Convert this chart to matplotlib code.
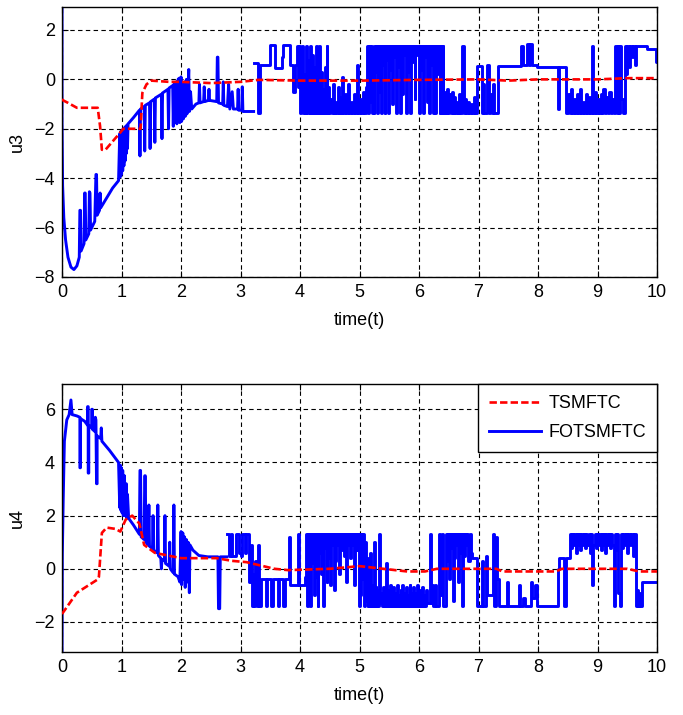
import matplotlib.pyplot as plt

plt.rcParams['font.family'] = ['Liberation Sans', 'DejaVu Sans']
plt.rcParams['font.size'] = 13

# ---- u3 ----
u3_tsm_t = [0, 0.02, 0.1, 0.25, 0.6, 0.64, 0.67, 0.73, 0.98, 1.03, 1.32, 1.35, 1.42, 1.5,
            1.8, 2.0, 2.5, 3.0, 3.3, 4.0, 5.0, 6.0, 7.0, 7.5, 8.0, 9.0, 9.5, 10]
u3_tsm_v = [-0.8, -0.85, -0.95, -1.15, -1.15, -1.9, -2.85, -2.85, -2.15, -2.0, -2.0, -0.55, -0.2, -0.05,
            -0.1, -0.1, -0.15, -0.1, -0.02, -0.05, -0.05, -0.02, 0.0, -0.05, 0.0, 0.0, 0.05, 0.05]

u3_fot_ramp = [
    (0.0, 3.0), (0.0, -1.7), (0.01, -4.3), (0.03, -5.6), (0.06, -6.5), (0.1, -7.2), (0.15, -7.6),
    (0.2, -7.7), (0.25, -7.55), (0.29, -7.2), (0.3, -5.3), (0.31, -5.3), (0.32, -6.95),
    (0.37, -6.65), (0.38, -4.6), (0.39, -4.6), (0.4, -6.5),
    (0.45, -6.25), (0.46, -4.55), (0.47, -4.6), (0.48, -6.1),
    (0.55, -5.75), (0.57, -3.85), (0.58, -3.85), (0.59, -5.5),
    (0.63, -5.3), (0.64, -4.6), (0.65, -5.2),
    (0.75, -4.8), (0.85, -4.4), (0.95, -4.1),
    (0.97, -2.2), (0.98, -3.95), (0.99, -2.1), (1.0, -3.85), (1.01, -2.05), (1.02, -3.7),
    (1.03, -2.0), (1.04, -3.5), (1.05, -1.95), (1.06, -3.3), (1.07, -1.9), (1.08, -3.0),
    (1.09, -1.85), (1.1, -2.8), (1.11, -1.8),
    (1.2, -1.55), (1.3, -1.25), (1.31, -3.1), (1.32, -1.2),
    (1.38, -1.1), (1.39, -2.9), (1.40, -1.05),
    (1.47, -0.95), (1.48, -2.8), (1.49, -0.9),
    (1.55, -0.8), (1.56, -2.55), (1.57, -0.75),
    (1.67, -0.6), (1.68, -2.4), (1.69, -0.55),
    (1.78, -0.4), (1.79, -2.0), (1.8, -0.35),
    (1.86, -0.25), (1.87, -1.9), (1.88, -0.2),
    (1.92, -0.1), (1.93, -1.8), (1.95, 0.0),
    (1.97, 0.05), (1.98, -1.75), (2.0, 0.1), (2.01, -1.7), (2.03, -0.2), (2.04, -1.6),
    (2.06, -0.1), (2.07, -1.5), (2.09, 0.0), (2.1, -1.4), (2.13, 0.4), (2.14, -1.3),
    (2.16, -0.5), (2.18, -1.2),
    (2.25, -1.0), (2.3, -0.95), (2.31, -0.2), (2.32, -0.95), (2.38, -0.9), (2.39, -0.3),
    (2.4, -0.9), (2.46, -0.85), (2.47, -0.4), (2.48, -0.85),
    (2.6, -0.9), (2.61, 0.9), (2.62, 0.9), (2.63, -0.95),
    (2.7, -1.0), (2.71, -0.1), (2.72, -1.05),
    (2.78, -1.1), (2.8, -0.2), (2.82, -1.2), (2.86, -0.5), (2.88, -1.2),
    (2.95, -1.2), (2.96, -0.4), (2.97, -1.25), (3.02, -1.25), (3.03, -0.3), (3.04, -1.3),
    (3.22, -1.3),
]

# switching part: (time, value held until the next time)
u3_fot_sw = [
    (3.22, 0.65), (3.30, -1.35), (3.33, 0.6), (3.50, 1.4), (3.58, 0.45), (3.69, 0.9), (3.72, 1.4),
    (3.83, 0.6), (3.88, -0.5), (3.91, 0.6), (3.95, 1.35), (3.965, -0.3), (3.98, 1.35),
    (3.995, -1.35), (4.01, 1.2), (4.025, -0.9), (4.04, 1.35), (4.055, -1.35), (4.07, 0.2),
    (4.085, -1.35), (4.10, 1.35), (4.115, -1.35), (4.13, 0.8), (4.145, -0.6), (4.16, -1.35),
    (4.175, 1.35), (4.19, -1.35), (4.205, 1.0), (4.22, -1.35), (4.235, 0.5), (4.25, -1.35),
    (4.265, 1.35), (4.28, -1.35), (4.295, -0.2), (4.31, -1.35), (4.325, 1.35), (4.34, -1.35),
    (4.355, 0.3), (4.37, -1.35), (4.385, -0.4), (4.40, -1.35), (4.415, 0.5), (4.43, -1.35),
    (4.445, 1.35), (4.46, -1.35), (4.475, -0.3), (4.49, -1.35), (4.51, -0.8), (4.53, -1.35),
    (4.55, -0.2), (4.57, -1.35), (4.59, -0.9), (4.61, -1.35), (4.63, -0.3), (4.65, -1.35),
    (4.67, -0.7), (4.69, -1.35), (4.71, 0.1), (4.73, -1.35), (4.76, -0.6), (4.78, -1.35),
    (4.81, -0.2), (4.83, -1.35), (4.86, -0.9), (4.88, -1.35), (4.91, -0.6), (4.93, -1.35),
    (4.95, 0.6), (4.97, -1.35), (5.01, -0.8), (5.03, -1.35), (5.06, -0.5), (5.08, -1.35),
    (5.11, -0.3), (5.13, 1.35), (5.145, -1.35), (5.16, 1.35), (5.175, -0.9), (5.19, 1.35),
    (5.205, -1.35), (5.22, 1.2), (5.235, -1.35), (5.25, 1.35), (5.265, 0.3), (5.28, 1.35),
    (5.295, -1.35), (5.31, 1.35), (5.325, -0.5), (5.34, 1.35), (5.36, -1.35), (5.375, 1.35),
    (5.39, 0.6), (5.405, 1.35), (5.42, -1.35), (5.435, 1.35), (5.45, 0.8), (5.465, 1.35),
    (5.48, -1.35), (5.495, 1.35), (5.51, 0.4), (5.53, 1.35), (5.545, -1.0), (5.56, 1.35),
    (5.58, 0.9), (5.595, 1.35), (5.61, -1.35), (5.625, 1.35), (5.645, 0.5), (5.66, 1.35),
    (5.68, -1.35), (5.695, 1.35), (5.715, -0.6), (5.73, 1.35), (5.75, 1.0), (5.765, 1.35),
    (5.785, -1.35), (5.80, 1.35), (5.82, 0.3), (5.835, 1.35), (5.855, -1.35), (5.87, 1.35),
    (5.89, 0.7), (5.905, 1.35), (5.925, -0.8), (5.94, 1.35), (5.96, 1.0), (5.975, 1.35),
    (5.995, -1.35), (6.01, 1.35), (6.03, 0.4), (6.045, 1.35), (6.065, -1.35), (6.08, 1.35),
    (6.10, 0.9), (6.115, 1.35), (6.135, -0.9), (6.15, 1.35), (6.17, -1.35), (6.185, 1.35),
    (6.205, 0.6), (6.22, 1.35), (6.24, -1.35), (6.255, 1.35), (6.275, -1.35), (6.29, 1.35),
    (6.31, 0.2), (6.325, 1.35), (6.345, -1.35), (6.36, 1.35), (6.38, -1.35), (6.395, 1.35),
    (6.41, -1.35), (6.43, -0.5), (6.45, -1.35), (6.47, -0.4), (6.49, -1.35), (6.51, -0.6),
    (6.53, -1.35), (6.55, -0.5), (6.57, -1.35), (6.59, -0.7), (6.61, -1.35), (6.63, -0.9),
    (6.65, -1.35), (6.67, -0.6), (6.69, -1.35), (6.73, 1.35), (6.75, -1.35), (6.77, -0.8),
    (6.79, -1.35), (6.82, -0.9), (6.84, -1.35), (6.87, -1.0), (6.89, -1.35), (6.92, -0.7),
    (6.94, -1.35), (6.97, 0.55), (7.05, -1.35), (7.08, -0.2), (7.10, -1.35), (7.14, 0.6),
    (7.17, -1.35), (7.20, -0.6), (7.22, -1.35), (7.24, -0.2), (7.26, -1.35), (7.33, 0.55),
    (7.72, 1.35), (7.74, 0.6), (7.82, 1.45), (7.84, 0.6), (7.86, 1.45), (7.90, 0.6),
    (7.98, 0.5), (8.33, -1.2), (8.35, 0.5), (8.47, -1.35), (8.51, -0.6), (8.53, -1.35),
    (8.55, -0.4), (8.57, -1.35), (8.60, -0.8), (8.62, -1.35), (8.65, -0.6), (8.67, -1.35),
    (8.70, -0.4), (8.72, -1.35), (8.75, -0.9), (8.77, -1.35), (8.80, -0.6), (8.82, -1.35),
    (8.85, -0.7), (8.87, -1.35), (8.90, 1.35), (8.92, -1.35), (8.95, -0.5), (8.97, -1.35),
    (9.00, -0.8), (9.02, -1.35), (9.05, -0.6), (9.07, -1.35), (9.10, -0.4), (9.12, -1.35),
    (9.15, -0.7), (9.17, -1.35), (9.20, -0.5), (9.22, -1.35), (9.25, -0.8), (9.27, -1.35),
    (9.30, 1.35), (9.32, -1.35), (9.34, 1.35), (9.36, -1.35), (9.38, 1.35), (9.40, -0.8),
    (9.42, -1.35), (9.46, 1.35), (9.48, 0.2), (9.50, 1.35), (9.53, 0.5), (9.55, 1.35),
    (9.58, 0.9), (9.60, 1.35), (9.63, 0.6), (9.65, 1.35), (9.83, 1.25), (9.99, 0.7), (10.0, 0.7),
]

# ---- u4 ----
u4_tsm_t = [0, 0.25, 0.6, 0.62, 0.67, 0.75, 0.9, 0.98, 1.07, 1.18, 1.3, 1.38, 1.56, 1.78, 2.0,
            2.6, 2.85, 3.1, 3.57, 3.8, 4.5, 5.0, 5.4, 5.8, 6.1, 6.3, 7.3, 7.4, 8.3, 8.4, 9.5, 9.7, 10]
u4_tsm_v = [-1.7, -0.9, -0.4, -0.3, 1.35, 1.55, 1.5, 1.4, 1.85, 2.0, 1.7, 0.9, 0.6, 0.5, 0.4,
            0.4, 0.3, 0.25, 0.0, -0.05, 0.0, 0.1, 0.0, -0.1, -0.1, 0.0, 0.0, -0.1, -0.1, 0.0, 0.0, -0.1, -0.1]

u4_fot_ramp = [
    (0.0, -3.2), (0.005, 0.5), (0.02, 2.6), (0.04, 4.8), (0.08, 5.6), (0.12, 5.8), (0.15, 6.35),
    (0.17, 5.8), (0.25, 5.75), (0.3, 5.7), (0.3, 3.8), (0.31, 3.8), (0.31, 5.65),
    (0.38, 5.55), (0.43, 5.4), (0.43, 6.1), (0.44, 6.1), (0.44, 3.6), (0.45, 3.6), (0.45, 5.4),
    (0.5, 5.3), (0.5, 6.0), (0.51, 6.0), (0.51, 5.25),
    (0.56, 5.15), (0.56, 5.7), (0.57, 5.6), (0.58, 3.2), (0.59, 3.2), (0.59, 5.0),
    (0.65, 4.9), (0.66, 5.3), (0.67, 4.8),
    (0.8, 4.45), (0.95, 4.0),
    (0.97, 2.3), (0.98, 3.9), (0.99, 2.2), (1.0, 3.8), (1.01, 2.1), (1.02, 3.7), (1.03, 2.0),
    (1.05, 3.5), (1.06, 2.0), (1.08, 3.2), (1.09, 1.9), (1.1, 2.8), (1.12, 1.9),
    (1.2, 1.65), (1.3, 1.3), (1.31, 3.7), (1.32, 3.7), (1.33, 1.2),
    (1.38, 1.1), (1.39, 3.5), (1.4, 3.5), (1.41, 1.0),
    (1.45, 0.9), (1.46, 2.4), (1.47, 0.85),
    (1.52, 0.75), (1.53, 2.0), (1.54, 0.7),
    (1.6, 0.6), (1.61, 2.4), (1.62, 0.5), (1.66, 0.4), (1.67, 0.0), (1.68, 0.35),
    (1.72, 0.3), (1.73, 2.0), (1.74, 0.2),
    (1.8, 0.1), (1.81, 1.0), (1.82, 0.0),
    (1.87, -0.15), (1.88, 2.4), (1.89, -0.2),
    (1.95, -0.3), (1.98, -0.5),
    (2.0, 1.4), (2.01, -0.6), (2.03, 1.35), (2.04, -0.4), (2.06, 1.2), (2.07, -0.7),
    (2.09, 1.1), (2.1, -0.5), (2.12, 1.0), (2.14, -0.9), (2.15, 0.9), (2.2, 0.7),
    (2.3, 0.5), (2.45, 0.45), (2.62, 0.45), (2.63, -1.5), (2.65, -1.5), (2.66, 0.45),
    (2.77, 0.45),
]

u4_fot_sw = [
    (2.77, 1.3), (2.80, 0.5), (2.84, 1.3), (2.86, 0.5), (2.93, 1.3), (2.97, 0.6), (3.00, 0.5),
    (3.03, 1.3), (3.07, 0.6), (3.10, 1.3), (3.15, -0.5), (3.17, 0.9), (3.19, -1.4), (3.21, -0.2),
    (3.23, -1.4), (3.25, 0.3), (3.27, -1.4), (3.29, 0.9), (3.31, -1.4), (3.34, -0.4),
    (3.42, -1.4), (3.44, -0.4), (3.52, -1.4), (3.54, -0.4), (3.63, -1.4), (3.65, -0.4),
    (3.72, -1.4), (3.74, -0.4), (3.81, 1.2), (3.83, -0.6), (3.97, 1.3), (3.99, -0.6),
    (4.08, -0.3), (4.10, 1.3), (4.115, -1.4), (4.13, 1.3), (4.145, -0.9), (4.16, 1.3),
    (4.175, -1.4), (4.19, 1.3), (4.205, 0.2), (4.22, 1.3), (4.235, -1.0), (4.25, 1.3),
    (4.265, -0.3), (4.28, 1.3), (4.295, -1.4), (4.31, 1.3), (4.325, 0.6), (4.34, 1.3),
    (4.355, -0.2), (4.37, 1.3), (4.385, -1.4), (4.40, 1.3), (4.415, 0.8), (4.43, 1.3),
    (4.445, -0.5), (4.46, 1.3), (4.475, 0.4), (4.49, 1.3), (4.505, -0.6), (4.52, 1.3),
    (4.535, 0.9), (4.55, 1.3), (4.565, -0.8), (4.58, 1.3), (4.595, 0.3), (4.61, 1.3),
    (4.625, 0.9), (4.64, 1.3), (4.655, -0.2), (4.67, 1.3), (4.685, 0.7), (4.70, 1.3),
    (4.715, 1.0), (4.73, 1.3), (4.745, 0.5), (4.76, 1.3), (4.78, -0.5), (4.795, 1.3),
    (4.81, 0.9), (4.825, 1.3), (4.845, 0.4), (4.86, 1.3), (4.88, 0.9), (4.895, 1.3),
    (4.915, -0.6), (4.93, 1.3), (4.95, 0.7), (4.965, 1.3), (4.985, -1.4), (5.0, 1.3),
    (5.015, -1.0), (5.03, 1.3), (5.045, -0.4), (5.06, 1.3), (5.075, -1.4), (5.09, 1.0),
    (5.105, -1.2), (5.12, 0.4), (5.135, -1.4), (5.15, -0.5), (5.165, -1.4), (5.18, 0.6),
    (5.195, -1.4), (5.21, -0.6), (5.225, -1.4), (5.24, 1.0), (5.255, -1.4), (5.27, -0.7),
    (5.285, -1.4), (5.30, -0.8), (5.315, -1.4), (5.33, 1.3), (5.345, -1.3), (5.36, -0.9),
    (5.375, -1.4), (5.39, -0.7), (5.405, -1.4), (5.42, -0.9), (5.435, -1.4), (5.45, 0.2),
    (5.465, -1.4), (5.48, -0.8), (5.495, -1.4), (5.51, -0.6), (5.525, -1.4), (5.54, -1.0),
    (5.555, -1.4), (5.57, -0.7), (5.585, -1.4), (5.60, -0.9), (5.615, -1.4), (5.63, -0.6),
    (5.645, -1.4), (5.66, -1.0), (5.675, -1.4), (5.69, -0.8), (5.705, -1.4), (5.72, -0.6),
    (5.735, -1.4), (5.75, -0.9), (5.765, -1.4), (5.78, -0.7), (5.795, -1.4), (5.81, -1.0),
    (5.825, -1.4), (5.84, -0.6), (5.855, -1.4), (5.87, -0.9), (5.885, -1.4), (5.90, -0.7),
    (5.915, -1.4), (5.93, -0.9), (5.945, -1.4), (5.96, -0.6), (5.975, -1.4), (5.99, -1.0),
    (6.005, -1.4), (6.02, -0.8), (6.035, -1.4), (6.05, -0.7), (6.065, -1.4), (6.08, -1.0),
    (6.095, -1.4), (6.11, -0.8), (6.13, -1.3), (6.18, 1.3), (6.20, -1.3), (6.22, -0.6),
    (6.24, -1.4), (6.26, -0.6), (6.28, -1.4), (6.34, 1.3), (6.36, -1.0), (6.38, 1.3),
    (6.40, -1.4), (6.46, 1.3), (6.475, 0.3), (6.49, 1.3), (6.505, -0.4), (6.52, 1.3),
    (6.535, 0.8), (6.55, 1.3), (6.565, -1.2), (6.58, 1.3), (6.595, 0.4), (6.61, 1.3),
    (6.625, 0.9), (6.64, 1.3), (6.655, -0.5), (6.67, 1.3), (6.685, 0.6), (6.70, 1.3),
    (6.72, -1.4), (6.74, 1.3), (6.755, 0.5), (6.77, 1.3), (6.79, 0.9), (6.81, 1.3),
    (6.83, 0.3), (6.85, 1.3), (6.87, 0.6), (6.89, 0.4), (6.98, -1.4), (7.05, 0.3),
    (7.08, -1.4), (7.12, 0.5), (7.15, -1.0), (7.24, 1.3), (7.26, -1.4), (7.29, 1.2),
    (7.31, -0.4), (7.34, -1.4), (7.47, -0.5), (7.50, -1.4), (7.68, -0.6), (7.70, -1.4),
    (7.75, -1.1), (7.78, -1.4), (7.88, -0.5), (7.90, -1.1), (7.95, -0.6), (7.98, -1.4),
    (8.33, 0.0), (8.36, 0.4), (8.44, -1.4), (8.47, 0.4), (8.53, 1.3), (8.55, 0.8),
    (8.57, 1.3), (8.59, 0.9), (8.61, 1.3), (8.63, 0.6), (8.65, 1.3), (8.67, 0.9),
    (8.69, 1.3), (8.71, 0.7), (8.73, 1.3), (8.75, 0.9), (8.77, 1.3), (8.79, 0.8),
    (8.81, 1.3), (8.83, 0.9), (8.85, 1.3), (8.87, 0.6), (8.89, 1.3), (8.91, -0.6),
    (8.93, 0.9), (8.95, 1.3), (8.97, 0.8), (8.99, 1.3), (9.01, 0.9), (9.03, 1.3),
    (9.05, 0.7), (9.07, 1.3), (9.09, 0.9), (9.11, 1.3), (9.13, 0.6), (9.15, 1.3),
    (9.17, 0.9), (9.19, 1.3), (9.21, 0.8), (9.23, 1.3), (9.25, 0.9), (9.27, -1.4),
    (9.29, 1.3), (9.31, 0.7), (9.33, 1.3), (9.35, -0.9), (9.37, -1.4), (9.39, 1.3),
    (9.41, 0.8), (9.43, 1.3), (9.46, 0.9), (9.48, 1.3), (9.50, 0.6), (9.52, 1.3),
    (9.55, 0.9), (9.57, 1.3), (9.60, 0.5), (9.62, 1.3), (9.64, -1.4), (9.66, -0.8),
    (9.68, -1.4), (9.70, -0.9), (9.72, -1.4), (9.74, -0.5), (10.0, -0.5),
]

panels = [
    ("u3", u3_tsm_t, u3_tsm_v, u3_fot_ramp, u3_fot_sw, (-8, 2.93), range(-8, 3, 2)),
    ("u4", u4_tsm_t, u4_tsm_v, u4_fot_ramp, u4_fot_sw, (-3.13, 6.95), range(-2, 7, 2)),
]
boxes = [[0.0908, 0.6126, 0.8712, 0.3776], [0.0908, 0.0881, 0.8712, 0.3748]]
blue = (0, 0, 1)

fig = plt.figure(figsize=(6.83, 7.15), dpi=100)
for i, (name, rt, rv, ramp, sw, ylim, yticks) in enumerate(panels):
    ax = fig.add_axes(boxes[i])
    ax.plot(rt, rv, color=(1, 0, 0), lw=1.9, dashes=(2.8, 1.2), label="TSMFTC", zorder=3)
    ax.plot([p[0] for p in ramp], [p[1] for p in ramp], color=blue, lw=2.1,
            label="FOTSMFTC", zorder=2)
    ax.plot([p[0] for p in sw], [p[1] for p in sw], color=blue, lw=2.1,
            drawstyle="steps-post", zorder=2)
    ax.set_xlim(0, 10)
    ax.set_ylim(*ylim)
    ax.set_xticks(range(0, 11))
    ax.set_yticks(list(yticks))
    ax.grid(True, color="black", linestyle=(0, (4, 3)), linewidth=0.8)
    ax.tick_params(direction="in", top=True, right=True, length=4, width=0.8, pad=5, labelsize=13)
    for s in ax.spines.values():
        s.set_linewidth(1.0)
    ax.set_xlabel("time(t)", labelpad=8)
    ax.set_ylabel(name, labelpad=6)
    if i == 1:
        leg = ax.legend(loc="upper right", borderaxespad=0, fancybox=False, framealpha=1,
                        edgecolor="black", handlelength=2.9, handletextpad=0.4,
                        labelspacing=0.7, borderpad=0.6)
        leg.get_frame().set_linewidth(1.0)

fig.savefig("out.png", dpi=100)
